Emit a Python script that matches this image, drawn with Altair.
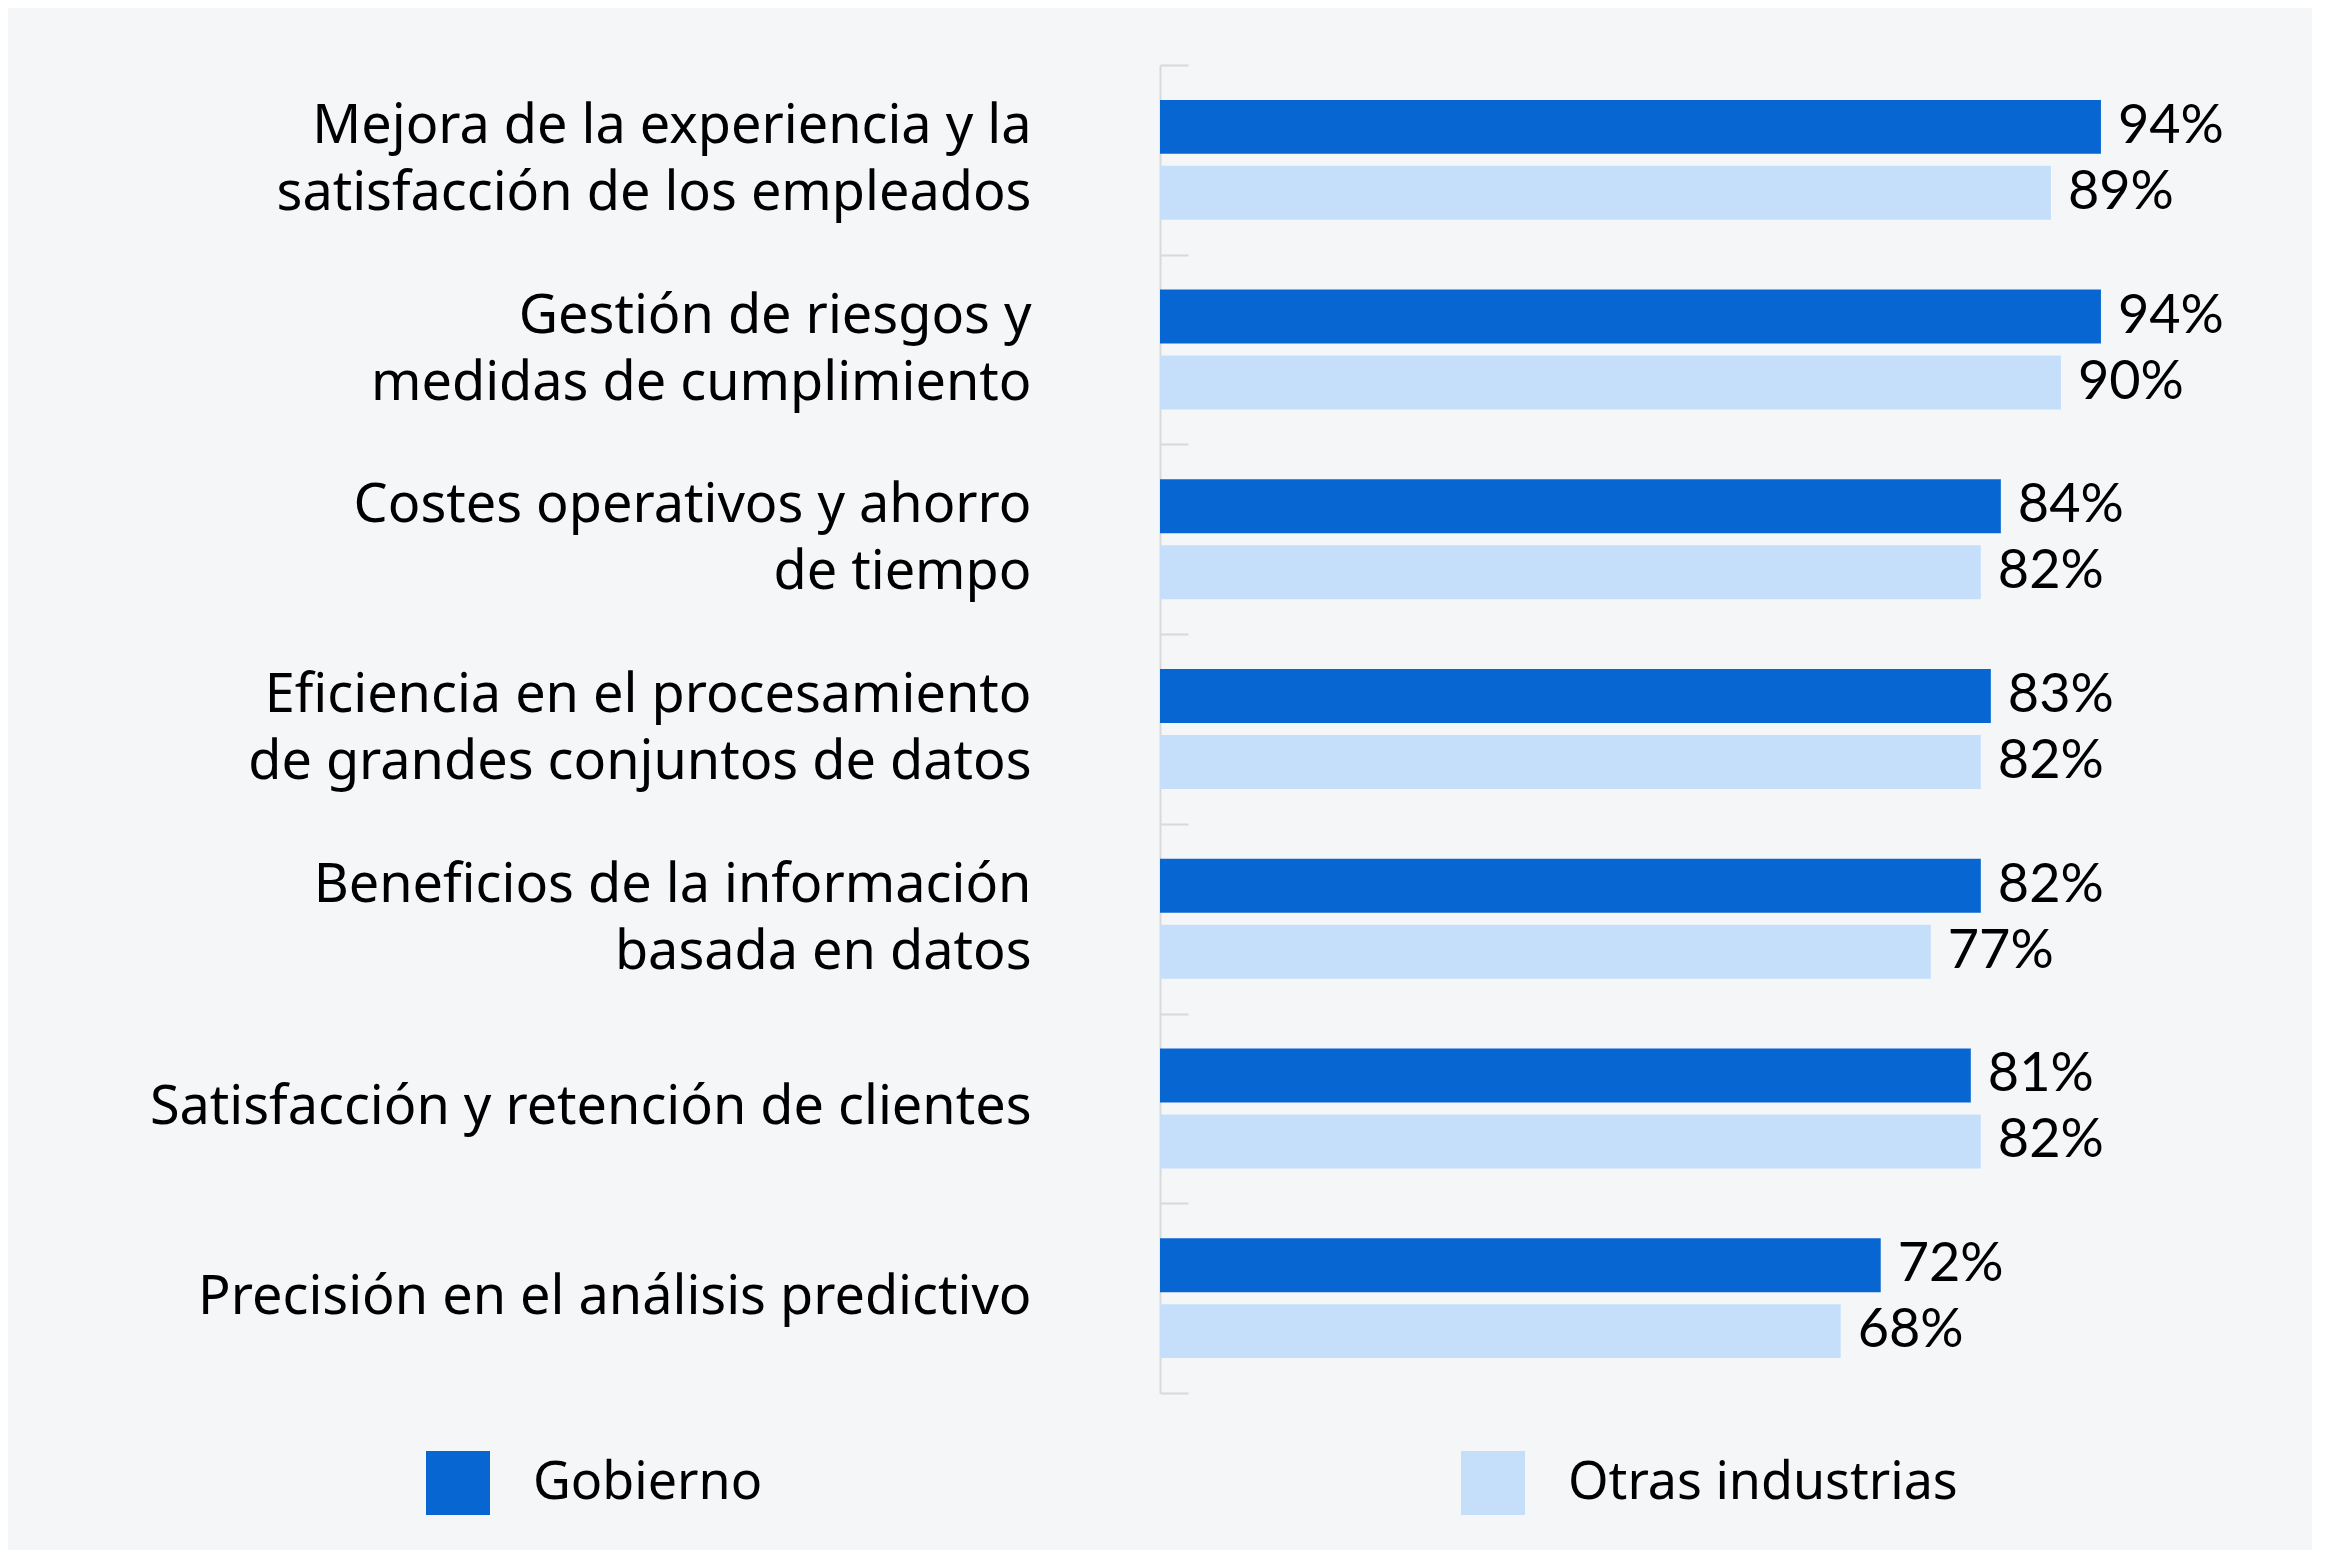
import altair as alt
import pandas as pd

categories = [
    "Mejora de la experiencia y la\nsatisfacción de los empleados",
    "Gestión de riesgos y\nmedidas de cumplimiento",
    "Costes operativos y ahorro\nde tiempo",
    "Eficiencia en el procesamiento\nde grandes conjuntos de datos",
    "Beneficios de la información\nbasada en datos",
    "Satisfacción y retención de clientes",
    "Precisión en el análisis predictivo",
]
gobierno = [94, 94, 84, 83, 82, 81, 72]
otras = [89, 90, 82, 82, 77, 82, 68]
series = ["Gobierno", "Otras industrias"]
colors = ["#0866D2", "#C5DFFB"]

rows = []
for c, g, o in zip(categories, gobierno, otras):
    rows.append({"category": c, "series": series[0], "value": g})
    rows.append({"category": c, "series": series[1], "value": o})
df = pd.DataFrame(rows)

LABEL_FONT = "Noto Sans"
VALUE_FONT = "Lato"

y_scale = alt.Scale(paddingInner=0.368, paddingOuter=0.184)
yoff = alt.YOffset("series:N", sort=series,
                   scale=alt.Scale(paddingInner=0.1818, paddingOuter=0))
x_enc = alt.X("value:Q", scale=alt.Scale(domain=[0, 100], nice=False), axis=None)

base = alt.Chart(df)

bars = base.mark_bar().encode(
    x=x_enc,
    y=alt.Y("category:N", sort=categories, scale=y_scale,
            axis=alt.Axis(title=None, orient="left", ticks=False, domain=False,
                          labelExpr="split(datum.label, '\\n')",
                          labelFont=LABEL_FONT, labelFontSize=54,
                          labelColor="#000000", labelLineHeight=67,
                          labelPadding=129, labelLimit=1200,
                          labelAlign="right", labelBaseline="middle",
                          labelOffset={"condition": {"test": "indexof(datum.label, '\\n') >= 0",
                                                     "value": -33},
                                       "value": 0})),
    yOffset=yoff,
    color=alt.Color("series:N", sort=series,
                    scale=alt.Scale(domain=series, range=colors),
                    legend=alt.Legend(orient="none", legendX=-734, legendY=1386,
                                      direction="horizontal", title=None,
                                      symbolType="square", symbolSize=4096,
                                      symbolStrokeWidth=0,
                                      labelFont=LABEL_FONT, labelFontSize=52,
                                      labelColor="#000000", labelOffset=43,
                                      columnPadding=698, labelLimit=800,
                                      padding=0)),
)

labels = base.mark_text(align="left", baseline="middle", dx=17,
                        font=VALUE_FONT, fontSize=54, color="#000000").transform_calculate(
    label="datum.value + '%'"
).encode(
    x=x_enc,
    y=alt.Y("category:N", sort=categories, scale=y_scale, axis=None),
    yOffset=yoff,
    text="label:N",
)

ticks = base.mark_point(opacity=0).encode(
    y=alt.Y("category:N", sort=categories,
            scale=alt.Scale(paddingInner=0, paddingOuter=0),
            axis=alt.Axis(title=None, orient="right", offset=-1001, labels=False,
                          domain=True, domainColor="#D9D9D9", domainWidth=2,
                          ticks=True, tickColor="#D9D9D9", tickWidth=2,
                          tickSize=28, tickBand="extent", grid=False)),
)

chart = alt.layer(bars, labels, ticks).resolve_scale(y="independent").resolve_axis(
    y="independent"
).properties(
    width=1001,
    height=1328,
    autosize=alt.AutoSizeParams(type="none"),
    padding={"left": 1152, "top": 57, "right": 151, "bottom": 157},
    background="#F5F6F8",
).configure_view(stroke=None)

chart.save("out.html", embed_options={"renderer": "svg", "actions": False})
